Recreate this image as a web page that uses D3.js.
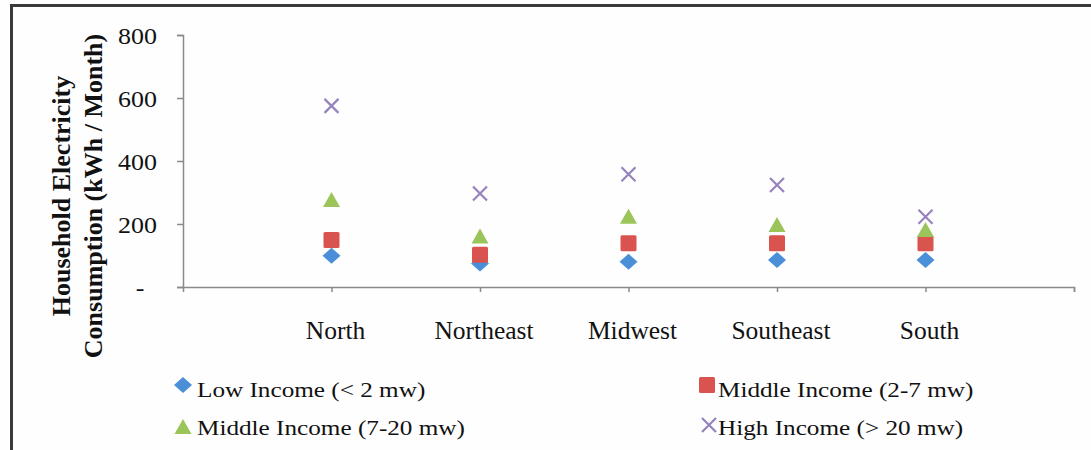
<!DOCTYPE html>
<html><head><meta charset="utf-8">
<script src="https://cdn.jsdelivr.net/npm/d3@7"></script>
<style>
html,body{margin:0;padding:0;background:#fff;}
text{font-family:"Liberation Serif","Times New Roman",serif;fill:#111;}
</style></head>
<body>
<svg id="chart" width="1091" height="450"></svg>
<script>
const categories = ["North","Northeast","Midwest","Southeast","South"];
const lowIncome  = [99, 75, 80, 86, 86];
const midIncome1 = [149, 102, 139, 139, 139];
const midIncome2 = [276, 160, 223, 197, 181];
const highIncome = [575, 297, 358, 324, 223];
const yTicks = [0, 200, 400, 600, 800];
const seriesNames = ["Low Income (< 2 mw)","Middle Income (2-7 mw)","Middle Income (7-20 mw)","High Income (> 20 mw)"];

const svg = d3.select("#chart");
svg.append("rect").attr("width",1091).attr("height",450).attr("fill","#fefefe");
// frame
svg.append("path").attr("d","M11.5,450 V5.5 H1091").attr("fill","none").attr("stroke","#3a3a3a").attr("stroke-width",3);

const x = d3.scaleLinear().domain([0,6]).range([183,1074]);
const y = d3.scaleLinear().domain([0,800]).range([287,35]);
const axisColor = "#8a8a8a";

// y axis
const ya = svg.append("g").attr("transform","translate(183,0)")
  .call(d3.axisLeft(y).tickValues(yTicks).tickSize(6).tickPadding(0).tickFormat(d => d===0 ? "-" : d3.format("d")(d)));
ya.select(".domain").attr("stroke",axisColor).attr("stroke-width",1.5);
ya.selectAll(".tick line").attr("stroke",axisColor).attr("stroke-width",1.5);
ya.selectAll(".tick text").attr("font-size",23).attr("fill","#111")
  .attr("text-anchor", d => d===0 ? "middle" : "end")
  .attr("x", d => d===0 ? -43/1.13 : -26/1.13)
  .attr("dy","0.36em")
  .attr("transform","scale(1.13,1)");

// x axis
const xa = svg.append("g").attr("transform","translate(0,287)")
  .call(d3.axisBottom(x).tickValues([1,2,3,4,5,6]).tickSize(5).tickFormat(""));
xa.select(".domain").attr("stroke",axisColor).attr("stroke-width",1.5);
xa.selectAll(".tick line").attr("stroke",axisColor).attr("stroke-width",1.5);

// category labels
svg.append("g").selectAll("text").data(categories).join("text")
  .attr("x",(d,i)=>x(i+1)+4).attr("y",339)
  .attr("text-anchor","middle").attr("font-size",25.5).text(d=>d);

// y title
const yt = svg.append("text").attr("transform","translate(0,196) rotate(-90)")
  .attr("text-anchor","middle").attr("font-size",26).attr("font-weight","bold");
yt.append("tspan").attr("x",0).attr("y",61).attr("dominant-baseline","central").text("Household Electricity");
yt.append("tspan").attr("x",0).attr("y",93).attr("dominant-baseline","central").text("Consumption (kWh / Month)");

// markers
const colors = ["#4a8fd8","#d9534f","#9bc45a","#9682bd"];
function drawMarker(g, type, cx, cy){
  if(type===0){
    g.append("path").attr("d",`M${cx},${cy-8}L${cx+9},${cy}L${cx},${cy+8}L${cx-9},${cy}Z`).attr("fill",colors[0]);
  } else if(type===1){
    g.append("rect").attr("x",cx-8).attr("y",cy-8).attr("width",16).attr("height",16).attr("rx",1.5).attr("fill",colors[1]);
  } else if(type===2){
    g.append("path").attr("d",`M${cx},${cy-8}L${cx+8.5},${cy+7}L${cx-8.5},${cy+7}Z`).attr("fill",colors[2]);
  } else {
    g.append("path").attr("d",`M${cx-7},${cy-7}L${cx+7},${cy+7}M${cx+7},${cy-7}L${cx-7},${cy+7}`)
      .attr("stroke",colors[3]).attr("stroke-width",2.2).attr("fill","none");
  }
}
const allSeries = [lowIncome, midIncome1, midIncome2, highIncome];
const mg = svg.append("g");
allSeries.forEach((vals, s) => {
  vals.forEach((v,i) => drawMarker(mg, s, x(i+1), y(v)));
});

// legend
const legendItems = [
  {s:0, mx:183, my:385, tx:197, ty:397},
  {s:1, mx:707, my:385, tx:718, ty:397},
  {s:2, mx:183, my:427, tx:197, ty:435},
  {s:3, mx:709, my:425, tx:718, ty:435}
];
const lg = svg.append("g");
legendItems.forEach(it => {
  drawMarker(lg, it.s, it.mx, it.my);
  lg.append("text").attr("transform",`translate(${it.tx},${it.ty}) scale(1.2,1)`)
    .attr("font-size",21).text(seriesNames[it.s]);
});
</script>
</body></html>
